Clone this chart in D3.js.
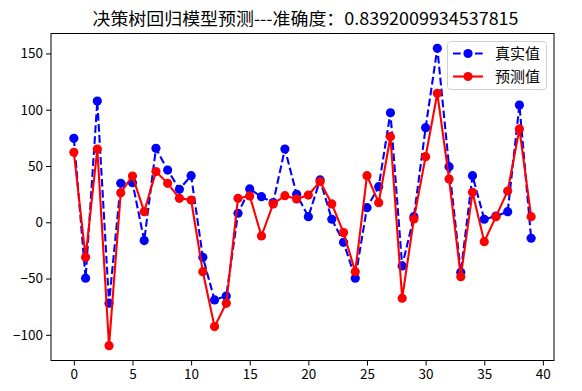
<!DOCTYPE html>
<html><head><meta charset="utf-8">
<script src="https://cdn.jsdelivr.net/npm/d3@7"></script>
<style>
html,body{margin:0;padding:0;background:#fff;}
svg{display:block;}
text{font-family:"Noto Sans CJK SC","DejaVu Sans",sans-serif;}
</style></head>
<body>
<script>
const titleText = "决策树回归模型预测---准确度：0.8392009934537815";
const seriesNames = ["真实值", "预测值"];
const indices = d3.range(40);
const trueValues = [74.6, -49.7, 107.7, -71.9, 34.6, 35.2, -16.3, 65.7, 46.4, 29.3,
  41.4, -31.1, -69, -65.5, 8, 29.6, 22.7, 17.5, 65.1, 24.8,
  5, 37.6, 2.7, -17.8, -49.7, 13, 31.6, 97.3, -38.8, 5,
  84, 154.5, 49.4, -44.4, 41.4, 2.7, 5.5, 9.4, 104.2, -14.2];
const predValues = [62.2, -31.1, 65.1, -109.6, 26.3, 41.1, 9.4, 45, 34.6, 21.3,
  19.8, -43.9, -92.7, -72, 21.3, 23.4, -12.2, 16.3, 23.6, 20.7,
  24.2, 36.1, 16.3, -9.2, -43.9, 41.4, 17.4, 76, -67.5, 2.9,
  58.3, 114.6, 38.5, -48.3, 26.6, -17.2, 5, 27.8, 82.9, 5];
const xTicks = [0, 5, 10, 15, 20, 25, 30, 35, 40];
const yTicks = [-100, -50, 0, 50, 100, 150];

const W = 582, H = 391;
const plot = {left: 51, right: 554, top: 33.5, bottom: 360.5};

const svg = d3.select("body").append("svg").attr("width", W).attr("height", H);

const xmin = d3.min(indices), xmax = d3.max(indices);
const xm = (xmax - xmin) * 0.05;
const x = d3.scaleLinear().domain([xmin - xm, xmax + xm]).range([plot.left, plot.right]);
const all = trueValues.concat(predValues);
const ymin = d3.min(all), ymax = d3.max(all);
const ym = (ymax - ymin) * 0.05;
const y = d3.scaleLinear().domain([ymin - ym, ymax + ym]).range([plot.bottom, plot.top]);

// axes
const xAxis = d3.axisBottom(x).tickValues(xTicks).tickSize(5).tickPadding(4).tickFormat(d3.format("d"));
const yAxis = d3.axisLeft(y).tickValues(yTicks).tickSize(5).tickPadding(3).tickFormat(d => d < 0 ? "\u2212" + Math.abs(d) : d);

const gx = svg.append("g").attr("transform", `translate(0,${plot.bottom})`).call(xAxis);
const gy = svg.append("g").attr("transform", `translate(${plot.left},0)`).call(yAxis);
[gx, gy].forEach(g => {
  g.select(".domain").remove();
  g.selectAll(".tick line").attr("stroke", "#000").attr("stroke-width", 1);
  g.selectAll(".tick text").attr("fill", "#000").style("font-size", "13.5px")
   .style("font-family", '"Noto Sans CJK SC", sans-serif');
});

// frame
svg.append("rect").attr("x", plot.left).attr("y", plot.top)
  .attr("width", plot.right - plot.left).attr("height", plot.bottom - plot.top)
  .attr("fill", "none").attr("stroke", "#000").attr("stroke-width", 1);

const line = d3.line().x((d, i) => x(indices[i])).y(d => y(d));

// true series
svg.append("path").datum(trueValues).attr("d", line)
  .attr("fill", "none").attr("stroke", "#0000ff").attr("stroke-width", 2.1)
  .attr("stroke-dasharray", "7.7,3.3");
svg.append("g").selectAll("circle").data(trueValues).join("circle")
  .attr("cx", (d, i) => x(indices[i])).attr("cy", d => y(d)).attr("r", 4.6).attr("fill", "#0000ff");

// pred series
svg.append("path").datum(predValues).attr("d", line)
  .attr("fill", "none").attr("stroke", "#ff0000").attr("stroke-width", 2.1);
svg.append("g").selectAll("circle").data(predValues).join("circle")
  .attr("cx", (d, i) => x(indices[i])).attr("cy", d => y(d)).attr("r", 4.6).attr("fill", "#ff0000");

// title
svg.append("text").attr("x", (plot.left + plot.right) / 2 + 3).attr("y", 25)
  .attr("text-anchor", "middle").style("font-size", "17px").attr("fill", "#000")
  .attr("textLength", 426).attr("lengthAdjust", "spacingAndGlyphs")
  .text(titleText);

// legend
const lg = svg.append("g");
lg.append("rect").attr("x", 447.5).attr("y", 41.5).attr("width", 99).attr("height", 48)
  .attr("rx", 3).attr("fill", "#fff").attr("fill-opacity", 0.8).attr("stroke", "#d0d0d0").attr("stroke-width", 1);
const entries = [
  {name: seriesNames[0], color: "#0000ff", dash: "7.7,3.3", yy: 53.5},
  {name: seriesNames[1], color: "#ff0000", dash: null, yy: 76.5}
];
entries.forEach(e => {
  lg.append("line").attr("x1", 453).attr("x2", 483).attr("y1", e.yy).attr("y2", e.yy)
    .attr("stroke", e.color).attr("stroke-width", 2.1).attr("stroke-dasharray", e.dash);
  lg.append("circle").attr("cx", 468).attr("cy", e.yy).attr("r", 4.6).attr("fill", e.color);
  lg.append("text").attr("x", 495).attr("y", e.yy + 5).style("font-size", "15px").attr("fill", "#000").text(e.name);
});
</script>
</body></html>
